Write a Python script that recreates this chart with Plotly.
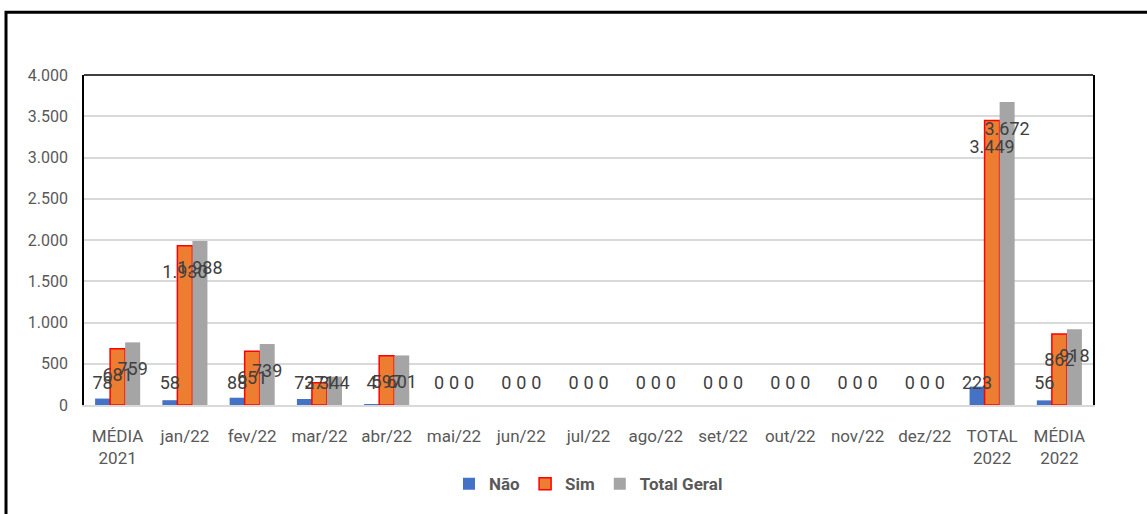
import plotly.graph_objects as go

categories = ["MÉDIA<br>2021", "jan/22", "fev/22", "mar/22", "abr/22", "mai/22", "jun/22",
              "jul/22", "ago/22", "set/22", "out/22", "nov/22", "dez/22", "TOTAL<br>2022", "MÉDIA<br>2022"]
nao = [78, 58, 88, 73, 4, 0, 0, 0, 0, 0, 0, 0, 0, 223, 56]
sim = [681, 1930, 651, 271, 597, 0, 0, 0, 0, 0, 0, 0, 0, 3449, 862]
total = [759, 1988, 739, 344, 601, 0, 0, 0, 0, 0, 0, 0, 0, 3672, 918]

series = [
    ("Não", nao, "#4472C4", None),
    ("Sim", sim, "#ED7D31", "#FF0000"),
    ("Total Geral", total, "#A5A5A5", None),
]

FONT = "Roboto, Liberation Sans, sans-serif"
GAP = 0.33

fig = go.Figure()
for i, (name, vals, color, edge) in enumerate(series):
    if edge:
        line = dict(color=edge, width=[1.5 if v > 0 else 0 for v in vals])
    else:
        line = dict(width=0)
    fig.add_trace(go.Bar(
        x=categories, y=vals, name=name, marker=dict(color=color, line=line),
        offsetgroup=str(i), cliponaxis=False,
    ))

# data labels (inside end, floored above the axis for short bars)
for i, (name, vals, color, edge) in enumerate(series):
    ypos = [max(v - 340, 250) for v in vals]
    txt = [f"{v:,}".replace(",", ".") for v in vals]
    fig.add_trace(go.Scatter(
        x=categories, y=ypos, text=txt, mode="text", offsetgroup=str(i),
        textfont=dict(family=FONT, size=18, color="#404040"),
        showlegend=False, hoverinfo="skip", cliponaxis=False,
    ))

fig.update_layout(
    width=1147, height=514,
    barmode="group", bargap=GAP, bargroupgap=0,
    scattermode="group", scattergap=GAP,
    separators=",.",
    paper_bgcolor="white", plot_bgcolor="white",
    margin=dict(l=84, r=54, t=75, b=109),
    font=dict(family=FONT, color="#595959", size=16),
    legend=dict(orientation="h", x=0.5, xanchor="center", y=-0.24, yanchor="middle",
                font=dict(size=17, color="#595959", family=FONT, weight="bold"),
                itemwidth=30, traceorder="normal"),
    xaxis=dict(showline=True, linecolor="#D9D9D9", linewidth=1.5, ticks="",
               tickfont=dict(size=17, color="#595959"), ticklabelstandoff=15),
    yaxis=dict(range=[0, 4000], dtick=500, tickformat=",d", showgrid=True,
               gridcolor="#D9D9D9", gridwidth=1.5, zeroline=False,
               showline=True, mirror=True, linecolor="black", linewidth=1.5,
               tickfont=dict(size=16, color="#595959"), ticklabelstandoff=11),
    shapes=[
        dict(type="line", xref="paper", yref="paper", x0=0, x1=1, y0=1, y1=1,
             line=dict(color="black", width=1.5)),
        dict(type="rect", xref="paper", yref="paper", x0=-0.0773, x1=1.08, y0=1.19, y1=-0.4,
             line=dict(color="black", width=3)),
    ],
)

fig.write_html("out.html", config={"displayModeBar": False},
               post_script="document.body.style.margin='0';")
